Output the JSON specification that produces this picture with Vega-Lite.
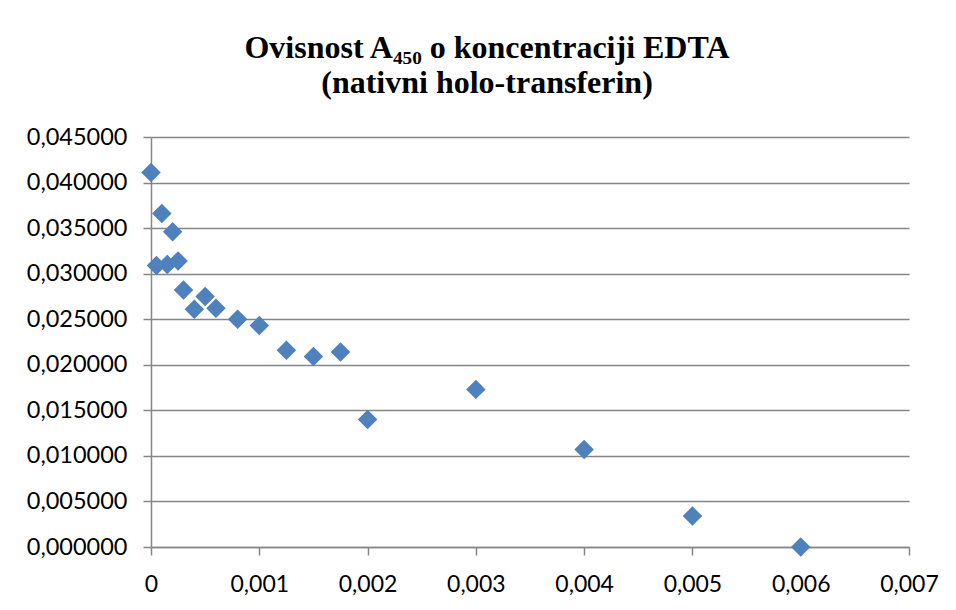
{
  "$schema": "https://vega.github.io/schema/vega-lite/v6.json",
  "autosize": {"type": "none"},
  "width": 758,
  "height": 410,
  "padding": {"left": 151, "top": 137, "right": 47, "bottom": 63},
  "background": "white",
  "title": {
    "text": ["Ovisnost A₄₅₀ o koncentraciji EDTA", "(nativni holo-transferin)"],
    "font": "Liberation Serif",
    "fontSize": 32,
    "fontWeight": "bold",
    "color": "black",
    "anchor": "middle",
    "dx": -43,
    "offset": 25,
    "lineHeight": 35
  },
  "data": {
    "values": [
      {"c": 0, "A": 0.0411},
      {"c": 0.00005, "A": 0.0309},
      {"c": 0.0001, "A": 0.0366},
      {"c": 0.00015, "A": 0.0310},
      {"c": 0.0002, "A": 0.0346},
      {"c": 0.00025, "A": 0.0314},
      {"c": 0.0003, "A": 0.0282},
      {"c": 0.0004, "A": 0.0261},
      {"c": 0.0005, "A": 0.0275},
      {"c": 0.0006, "A": 0.0262},
      {"c": 0.0008, "A": 0.0250},
      {"c": 0.001, "A": 0.0243},
      {"c": 0.00125, "A": 0.0216},
      {"c": 0.0015, "A": 0.0209},
      {"c": 0.00175, "A": 0.0214},
      {"c": 0.002, "A": 0.0140},
      {"c": 0.003, "A": 0.0173},
      {"c": 0.004, "A": 0.0107},
      {"c": 0.005, "A": 0.0034},
      {"c": 0.006, "A": 0.0000}
    ]
  },
  "mark": {"type": "point", "shape": "diamond", "filled": true, "size": 380, "color": "#4F81BD", "opacity": 1, "clip": false},
  "encoding": {
    "x": {
      "field": "c",
      "type": "quantitative",
      "scale": {"domain": [0, 0.007], "nice": false, "zero": false},
      "axis": {
        "title": null,
        "values": [0, 0.001, 0.002, 0.003, 0.004, 0.005, 0.006, 0.007],
        "labelExpr": "replace(format(datum.value, '.3~f'), '.', ',')",
        "grid": false,
        "domainColor": "#868686",
        "domainWidth": 1.5,
        "tickColor": "#868686",
        "tickWidth": 1.5,
        "tickSize": 8,
        "labelFont": "Lato",
        "labelFontSize": 23,
        "labelColor": "black",
        "labelPadding": 18,
        "labelFlush": false,
        "labelOverlap": false
      }
    },
    "y": {
      "field": "A",
      "type": "quantitative",
      "scale": {"domain": [0, 0.045], "nice": false, "zero": false},
      "axis": {
        "title": null,
        "values": [0, 0.005, 0.01, 0.015, 0.02, 0.025, 0.03, 0.035, 0.04, 0.045],
        "labelExpr": "replace(format(datum.value, '.6f'), '.', ',')",
        "grid": true,
        "gridColor": "#868686",
        "gridWidth": 1.5,
        "domainColor": "#868686",
        "domainWidth": 1.5,
        "tickColor": "#868686",
        "tickWidth": 1.5,
        "tickSize": 8,
        "labelFont": "Lato",
        "labelFontSize": 23.5,
        "labelColor": "black",
        "labelPadding": 16,
        "labelFlush": false,
        "labelOverlap": false
      }
    }
  },
  "config": {"view": {"stroke": null}}
}
